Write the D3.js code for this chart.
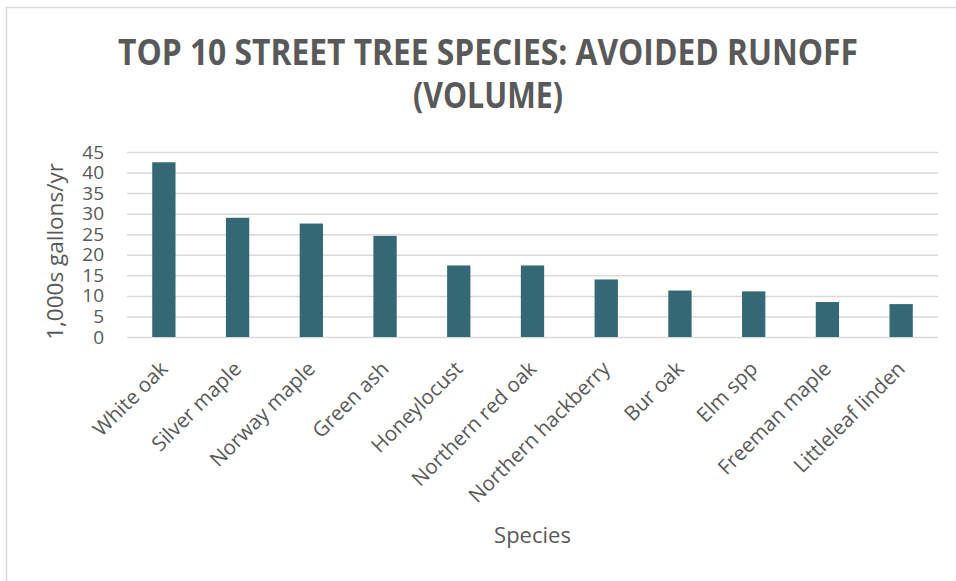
<!DOCTYPE html>
<html>
<head>
<meta charset="utf-8">
<script src="https://cdn.jsdelivr.net/npm/d3@7"></script>
<style>
  body { margin: 0; background: #fff; }
  svg { display: block; font-family: 'Open Sans', sans-serif; }
</style>
</head>
<body>
<svg id="chart" width="956" height="581"></svg>
<script>
// DATA
const species = ['White oak', 'Silver maple', 'Norway maple', 'Green ash', 'Honeylocust',
  'Northern red oak', 'Northern hackberry', 'Bur oak', 'Elm spp', 'Freeman maple', 'Littleleaf linden'];
const runoff = [42.5, 29, 27.6, 24.6, 17.4, 17.4, 14, 11.3, 11.1, 8.5, 8];
const yTicks = [0, 5, 10, 15, 20, 25, 30, 35, 40, 45];
const titleLines = ['TOP 10 STREET TREE SPECIES: AVOIDED RUNOFF', '(VOLUME)'];

const svg = d3.select('#chart');
const textColor = '#595959';

const padding = { top: 152, right: 18, bottom: 244, left: 127 };
const width = +svg.attr('width');
const height = +svg.attr('height');

// BORDER
svg.append('rect')
  .attr('x', 6.5).attr('y', 7.5)
  .attr('width', width).attr('height', height)
  .attr('fill', 'none')
  .attr('stroke', '#d9d9d9')
  .attr('stroke-width', 1.5);

// SCALES
const xScale = d3.scaleBand()
  .domain(species)
  .range([padding.left, width - padding.right])
  .paddingInner(0.684)
  .paddingOuter(0.342);

const yScale = d3.scaleLinear()
  .domain([0, 45])
  .range([height - padding.bottom, padding.top]);

// GRID
const grid = d3.axisLeft(yScale)
  .tickValues(yTicks)
  .tickSize(-(width - padding.right - padding.left))
  .tickFormat('');
svg.append('g')
  .attr('transform', `translate(${padding.left},0)`)
  .call(grid)
  .call((g) => g.select('.domain').remove())
  .call((g) => g.selectAll('line').attr('stroke', '#d9d9d9').attr('stroke-width', 1.5));

// Y AXIS LABELS
const yAxis = d3.axisLeft(yScale).tickValues(yTicks).tickSize(0).tickPadding(23);
svg.append('g')
  .attr('transform', `translate(${padding.left},0)`)
  .call(yAxis)
  .call((g) => g.select('.domain').remove())
  .call((g) => g.selectAll('text')
    .attr('fill', textColor)
    .style('font-size', '19px')
    .style('font-family', 'Open Sans, sans-serif'));

// BARS
svg.append('g')
  .selectAll('rect')
  .data(runoff)
  .join('rect')
  .attr('x', (d, i) => xScale(species[i]))
  .attr('y', (d) => yScale(d))
  .attr('width', xScale.bandwidth())
  .attr('height', (d) => yScale(0) - yScale(d))
  .attr('fill', '#346874');

// X AXIS LABELS
const xAxis = d3.axisBottom(xScale).tickSize(0).tickPadding(0);
svg.append('g')
  .attr('transform', `translate(0,${yScale(0)})`)
  .call(xAxis)
  .call((g) => g.select('.domain').remove())
  .call((g) => g.selectAll('text')
    .attr('fill', textColor)
    .style('font-size', '20.5px')
    .style('font-family', 'Open Sans, sans-serif')
    .attr('text-anchor', 'end')
    .attr('dy', '0.35em')
    .attr('transform', 'translate(0,28) rotate(-45)'));

// AXIS TITLES
svg.append('text')
  .attr('x', (padding.left + width - padding.right) / 2)
  .attr('y', 543)
  .attr('text-anchor', 'middle')
  .attr('fill', textColor)
  .style('font-size', '22px')
  .text('Species');

svg.append('text')
  .attr('transform', `translate(63,${(yScale(0) + yScale(45)) / 2 + 7}) rotate(-90)`)
  .attr('text-anchor', 'middle')
  .attr('fill', textColor)
  .style('font-size', '22.5px')
  .text('1,000s gallons/yr');

// TITLE
svg.append('g')
  .selectAll('text')
  .data(titleLines)
  .join('text')
  .attr('x', 488)
  .attr('y', (d, i) => 65 + i * 43)
  .attr('text-anchor', 'middle')
  .attr('fill', textColor)
  .style('font-size', '35px')
  .style('font-weight', 'bold')
  .attr('textLength', (d, i) => (i === 0 ? 740 : 150))
  .attr('lengthAdjust', 'spacingAndGlyphs')
  .text((d) => d);
</script>
</body>
</html>
